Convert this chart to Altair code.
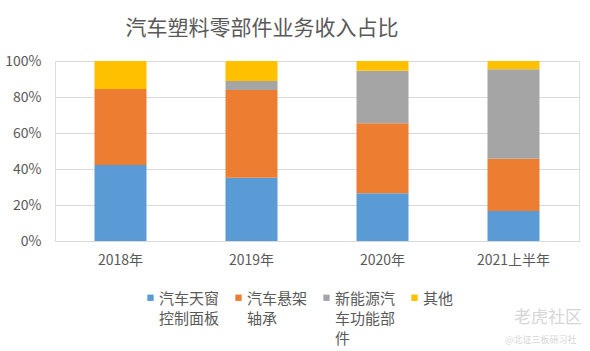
import altair as alt
import pandas as pd

years = ["2018年", "2019年", "2020年", "2021上半年"]
series = ["汽车天窗\n控制面板", "汽车悬架\n轴承", "新能源汽\n车功能部\n件", "其他"]
colors = ["#5B9BD5", "#ED7D31", "#A5A5A5", "#FFC000"]

sunroof_panel = [42.2, 35.2, 26.5, 16.7]
suspension_bearing = [42.2, 48.7, 38.9, 29.0]
nev_parts = [0.0, 5.0, 29.2, 49.7]
others = [15.6, 11.1, 5.4, 4.6]

values = [sunroof_panel, suspension_bearing, nev_parts, others]
rows = []
for si, (name, vals) in enumerate(zip(series, values)):
    for y, v in zip(years, vals):
        rows.append({"year": y, "series": name, "share": v, "idx": si})
df = pd.DataFrame(rows)

FONT = "Noto Sans CJK SC"
GRAY = "#595959"

# pad every legend label to three lines so all entries share one height
label_expr = (
    "split(datum.label + (length(split(datum.label, '\\n')) == 1 ? '\\n\u3000\\n\u3000' : "
    "length(split(datum.label, '\\n')) == 2 ? '\\n\u3000' : ''), '\\n')"
)
# square swatch drawn a little lower so it sits beside the first label line
swatch = "M-1,0.9H1V2.9H-1Z"

bars = alt.Chart(df).mark_bar(size=52).encode(
    x=alt.X("year:N", sort=years, title=None,
            axis=alt.Axis(labelAngle=0, labelFontSize=14, labelColor=GRAY, labelFont=FONT,
                          ticks=False, domain=True, domainColor="#D9D9D9", labelPadding=12)),
    y=alt.Y("share:Q", stack="zero", title=None,
            scale=alt.Scale(domain=[0, 100], nice=False),
            axis=alt.Axis(values=[0, 20, 40, 60, 80, 100], labelExpr="datum.value + '%'",
                          labelFontSize=14, labelColor=GRAY, labelFont=FONT, ticks=False,
                          domain=False, gridColor="#D9D9D9", labelPadding=14)),
    color=alt.Color("series:N", sort=series,
                    scale=alt.Scale(domain=series, range=colors),
                    legend=alt.Legend(title=None, orient="none", legendX=88, legendY=223,
                                      direction="horizontal", columns=4, symbolType=swatch,
                                      symbolSize=40, symbolStrokeWidth=0, labelFontSize=15,
                                      labelFont=FONT, labelColor=GRAY, labelOffset=1,
                                      labelBaseline="top", gridAlign="all",
                                      columnPadding=11, padding=0, labelLimit=200,
                                      labelExpr=label_expr)),
    order=alt.Order("idx:Q", sort="ascending"),
)

wm1 = alt.Chart(pd.DataFrame({"t": ["老虎社区"]})).mark_text(
    align="left", baseline="middle", fontSize=17, color="#D6D6D6", font=FONT
).encode(text="t:N", x=alt.value(459), y=alt.value(257))
wm2 = alt.Chart(pd.DataFrame({"t": ["@北证三板研习社"]})).mark_text(
    align="left", baseline="middle", fontSize=9, color="#D6D6D6", font=FONT
).encode(text="t:N", x=alt.value(450), y=alt.value(279))

chart = alt.layer(bars, wm1, wm2).properties(
    width=524, height=180,
    padding={"left": 55, "top": 61, "right": 11, "bottom": 110},
    autosize=alt.AutoSizeParams(type="none"),
    title=alt.Title("汽车塑料零部件业务收入占比", anchor="middle", dx=-55, fontSize=21,
                    color=GRAY, font=FONT, fontWeight="normal", offset=15),
).configure_view(stroke=None).configure(style={"guide-label": {"lineHeight": 20}})

chart.save("out.html", embed_options={"renderer": "svg", "actions": False})
